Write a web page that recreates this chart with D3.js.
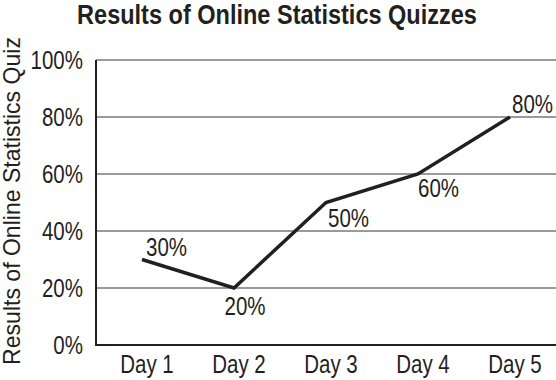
<!DOCTYPE html>
<html><head><meta charset="utf-8">
<script src="https://cdn.jsdelivr.net/npm/d3@7"></script>
<style>
body{margin:0;background:#fff;}
text{font-family:"Liberation Sans",Arimo,Arial,sans-serif;fill:#231f20;}
</style></head>
<body><svg id="c" width="556" height="380"></svg>
<script>
const days = ["Day 1","Day 2","Day 3","Day 4","Day 5"];
const scores = [30, 20, 50, 60, 80];
const yTicks = [0, 20, 40, 60, 80, 100];
const labelOffsets = [[4,-4,"start"],[11,27,"middle"],[2,24,"start"],[0,23,"start"],[2,-4,"start"]];

const svg = d3.select("#c");
const x = d3.scalePoint().domain(days).range([142, 510]);
const y = d3.scaleLinear().domain([0,100]).range([345, 60]);
const left = 96, right = 556;
const SX = 0.82; // condensed look

function ctext(g, px, py, str, size, anchor, opts) {
  opts = opts || {};
  const t = g.append("text")
    .attr("font-size", size)
    .attr("text-anchor", anchor)
    .attr("font-weight", opts.weight || "normal")
    .text(str);
  let sx = SX;
  if (opts.fit) {
    const w = t.node().getComputedTextLength();
    sx = opts.fit / w;
  }
  t.attr("transform", (opts.pre || "") + "translate(" + px + "," + py + ") scale(" + sx + ",1)");
  return t;
}

// gridlines
svg.append("g").selectAll("line").data(yTicks.filter(d=>d>0)).join("line")
  .attr("x1", left).attr("x2", right)
  .attr("y1", d=>y(d)).attr("y2", d=>y(d))
  .attr("stroke", "#9a9a9a").attr("stroke-width", 2);

// axes lines
svg.append("line").attr("x1",left).attr("x2",left).attr("y1",y(100)).attr("y2",y(0)+1)
  .attr("stroke","#231f20").attr("stroke-width",2);
svg.append("line").attr("x1",left-1).attr("x2",right).attr("y1",y(0)).attr("y2",y(0))
  .attr("stroke","#231f20").attr("stroke-width",2);

// y tick labels
const gy = svg.append("g");
yTicks.forEach(d => ctext(gy, 83, y(d)+9, d+"%", 25, "end"));

// x labels
const gx = svg.append("g");
days.forEach(d => ctext(gx, x(d)+5, 373, d, 25, "middle"));

// line
svg.append("path").datum(scores)
  .attr("d", d3.line().x((d,i)=>x(days[i])).y(d=>y(d)))
  .attr("fill","none").attr("stroke","#231f20").attr("stroke-width",3.5)
  .attr("stroke-linejoin","miter");

// data labels
const gl = svg.append("g");
scores.forEach((d,i) => ctext(gl, x(days[i])+labelOffsets[i][0], y(d)+labelOffsets[i][1], d+"%", 25, labelOffsets[i][2]));

// title
ctext(svg, 277, 24, "Results of Online Statistics Quizzes", 27, "middle", {weight:"bold", fit:400});

// y axis title
ctext(svg, 0, 0, "Results of Online Statistics Quiz", 23.5, "middle", {fit:328, pre:"translate(20,201) rotate(-90) "});
</script></body></html>
